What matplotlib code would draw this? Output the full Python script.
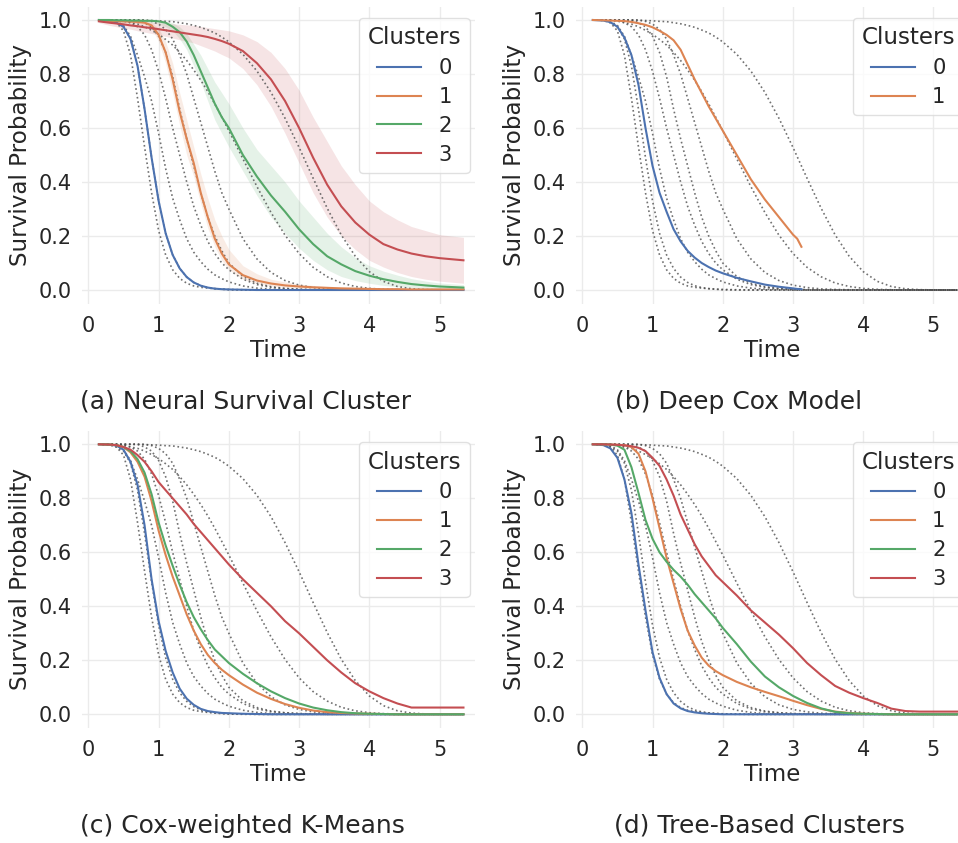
import matplotlib
matplotlib.use("Agg")
import matplotlib.pyplot as plt

plt.rcParams.update({"font.family": "DejaVu Sans", "text.color": "#262626",
                     "axes.labelcolor": "#262626", "xtick.color": "#262626",
                     "ytick.color": "#262626"})

# ground-truth survival curves (dotted, shared by all panels)
t_true = [0.2, 0.3, 0.4, 0.5, 0.6, 0.7, 0.8, 0.9, 1.0, 1.1, 1.2, 1.3, 1.4, 1.5, 1.6, 1.7,
          1.8, 1.9, 2.0, 2.2, 2.4, 2.6, 2.8, 3.0, 3.2, 3.4, 3.6, 3.8, 4.0, 4.2, 4.4, 4.6,
          4.8, 5.0, 5.34]
true_1 = [1.0, 0.998, 0.99, 0.96, 0.87, 0.71, 0.53, 0.36, 0.22, 0.13, 0.075, 0.043, 0.025,
          0.015, 0.01, 0.007, 0.005, 0.003, 0.002, 0.001, 0, 0, 0, 0, 0, 0, 0, 0, 0, 0, 0, 0,
          0, 0, 0]
true_2 = [1.0, 0.999, 0.99, 0.975, 0.93, 0.83, 0.67, 0.49, 0.33, 0.21, 0.13, 0.08, 0.048,
          0.028, 0.016, 0.009, 0.005, 0.003, 0.001, 0, 0, 0, 0, 0, 0, 0, 0, 0, 0, 0, 0, 0, 0, 0, 0]
true_3 = [1.0, 1.0, 0.995, 0.98, 0.94, 0.87, 0.79, 0.7, 0.58, 0.45, 0.34, 0.26, 0.19, 0.14,
          0.105, 0.077, 0.056, 0.042, 0.03, 0.015, 0.007, 0.003, 0.001, 0, 0, 0, 0, 0, 0, 0, 0,
          0, 0, 0, 0]
true_4 = [1.0, 1.0, 1.0, 0.998, 0.99, 0.975, 0.945, 0.89, 0.81, 0.71, 0.6, 0.5, 0.4, 0.31,
          0.24, 0.18, 0.135, 0.1, 0.075, 0.04, 0.02, 0.01, 0.005, 0.002, 0.001, 0, 0, 0, 0, 0,
          0, 0, 0, 0, 0]
true_5 = [1.0, 1.0, 1.0, 1.0, 1.0, 1.0, 0.99, 0.975, 0.94, 0.88, 0.79, 0.67, 0.56, 0.46, 0.36,
          0.27, 0.2, 0.145, 0.1, 0.05, 0.025, 0.012, 0.006, 0.003, 0.001, 0, 0, 0, 0, 0, 0, 0,
          0, 0, 0]
true_6 = [1.0, 1.0, 1.0, 1.0, 1.0, 1.0, 1.0, 0.995, 0.985, 0.965, 0.93, 0.87, 0.8, 0.71, 0.62,
          0.53, 0.44, 0.36, 0.3, 0.19, 0.115, 0.065, 0.035, 0.018, 0.009, 0.004, 0.002, 0.001,
          0, 0, 0, 0, 0, 0, 0]
true_7 = [1.0, 1.0, 0.998, 0.996, 0.99, 0.985, 0.975, 0.962, 0.947, 0.928, 0.907, 0.88, 0.85,
          0.815, 0.777, 0.735, 0.689, 0.64, 0.59, 0.486, 0.383, 0.287, 0.203, 0.135, 0.084,
          0.049, 0.026, 0.013, 0.006, 0.0025, 0.001, 0, 0, 0, 0]
true_8 = [1.0, 1.0, 1.0, 1.0, 1.0, 1.0, 0.999, 0.998, 0.997, 0.995, 0.994, 0.99, 0.986, 0.98,
          0.973, 0.963, 0.952, 0.937, 0.919, 0.873, 0.811, 0.732, 0.636, 0.528, 0.414, 0.303,
          0.204, 0.125, 0.068, 0.032, 0.013, 0.0045, 0.0013, 0.0003, 0]
true_curves = [true_1, true_2, true_3, true_4, true_5, true_6, true_7, true_8]

# estimated cluster curves
t_grid = [0.15, 0.3, 0.4, 0.5, 0.6, 0.7, 0.8, 0.9, 1.0, 1.1, 1.2, 1.3, 1.4, 1.5, 1.6, 1.7,
          1.8, 1.9, 2.0, 2.2, 2.4, 2.6, 2.8, 3.0, 3.2, 3.4, 3.6, 3.8, 4.0, 4.2, 4.4, 4.6,
          4.8, 5.0, 5.34]

# (a) Neural Survival Cluster
nsc_0 = [1.0, 0.998, 0.99, 0.975, 0.93, 0.83, 0.67, 0.49, 0.33, 0.21, 0.13, 0.08, 0.048,
         0.028, 0.016, 0.009, 0.005, 0.003, 0.002, 0.001, 0, 0, 0, 0, 0, 0, 0, 0, 0, 0, 0, 0,
         0, 0, 0]
nsc_1 = [0.998, 0.997, 0.996, 0.995, 0.994, 0.993, 0.99, 0.98, 0.945, 0.88, 0.78, 0.66, 0.56,
         0.47, 0.36, 0.27, 0.19, 0.135, 0.095, 0.055, 0.035, 0.024, 0.017, 0.013, 0.01, 0.008,
         0.006, 0.005, 0.004, 0.003, 0.003, 0.002, 0.002, 0.002, 0.002]
nsc_1_hi = [1.0, 1.0, 1.0, 0.999, 0.998, 0.997, 0.995, 0.99, 0.97, 0.92, 0.84, 0.73, 0.63,
            0.53, 0.43, 0.34, 0.26, 0.2, 0.15, 0.09, 0.06, 0.04, 0.03, 0.022, 0.017, 0.013,
            0.011, 0.009, 0.008, 0.007, 0.006, 0.005, 0.005, 0.004, 0.004]
nsc_1_lo = [0.996, 0.995, 0.993, 0.991, 0.989, 0.987, 0.983, 0.97, 0.92, 0.84, 0.73, 0.61,
            0.5, 0.42, 0.32, 0.23, 0.16, 0.11, 0.075, 0.04, 0.024, 0.015, 0.01, 0.007, 0.005,
            0.004, 0.003, 0.002, 0.002, 0.001, 0.001, 0.001, 0.001, 0.001, 0.001]
nsc_2 = [1.0, 1.0, 0.999, 0.999, 0.998, 0.998, 0.997, 0.997, 0.995, 0.99, 0.975, 0.955, 0.92,
         0.87, 0.81, 0.75, 0.69, 0.64, 0.6, 0.5, 0.42, 0.35, 0.29, 0.225, 0.17, 0.125, 0.095,
         0.07, 0.053, 0.04, 0.03, 0.022, 0.017, 0.013, 0.009]
nsc_2_hi = [1.0, 1.0, 1.0, 1.0, 1.0, 1.0, 1.0, 1.0, 0.999, 0.996, 0.99, 0.975, 0.95, 0.91,
            0.87, 0.82, 0.77, 0.73, 0.69, 0.6, 0.52, 0.46, 0.4, 0.33, 0.27, 0.21, 0.16, 0.12,
            0.09, 0.07, 0.055, 0.042, 0.033, 0.026, 0.02]
nsc_2_lo = [0.999, 0.998, 0.997, 0.996, 0.995, 0.994, 0.993, 0.99, 0.985, 0.975, 0.96, 0.93,
            0.89, 0.83, 0.77, 0.7, 0.63, 0.58, 0.53, 0.44, 0.35, 0.27, 0.21, 0.155, 0.11, 0.075,
            0.05, 0.035, 0.025, 0.017, 0.012, 0.008, 0.006, 0.004, 0.003]
nsc_3 = [0.995, 0.99, 0.987, 0.984, 0.98, 0.977, 0.973, 0.97, 0.966, 0.962, 0.958, 0.954,
         0.95, 0.946, 0.942, 0.937, 0.93, 0.922, 0.912, 0.885, 0.84, 0.78, 0.7, 0.6, 0.49, 0.39,
         0.31, 0.25, 0.205, 0.17, 0.15, 0.135, 0.125, 0.118, 0.11]
nsc_3_hi = [1.0, 0.999, 0.998, 0.997, 0.996, 0.995, 0.994, 0.992, 0.99, 0.988, 0.986, 0.984,
            0.982, 0.98, 0.976, 0.972, 0.968, 0.964, 0.96, 0.945, 0.92, 0.88, 0.82, 0.74, 0.64,
            0.55, 0.46, 0.39, 0.33, 0.29, 0.26, 0.235, 0.22, 0.205, 0.195]
nsc_3_lo = [0.99, 0.98, 0.975, 0.97, 0.966, 0.96, 0.955, 0.95, 0.945, 0.939, 0.933, 0.927,
            0.921, 0.915, 0.905, 0.895, 0.885, 0.872, 0.86, 0.82, 0.76, 0.68, 0.58, 0.47, 0.36,
            0.27, 0.2, 0.15, 0.11, 0.085, 0.065, 0.05, 0.04, 0.033, 0.025]

# (b) Deep Cox Model
t_cox = [0.15, 0.3, 0.4, 0.5, 0.6, 0.7, 0.8, 0.9, 1.0, 1.1, 1.2, 1.3, 1.4, 1.5, 1.6, 1.7, 1.8,
         1.9, 2.0, 2.2, 2.4, 2.6, 2.8, 3.0, 3.06, 3.12]
cox_0 = [1.0, 0.998, 0.992, 0.975, 0.935, 0.87, 0.76, 0.6, 0.46, 0.36, 0.29, 0.225, 0.18,
         0.145, 0.12, 0.1, 0.085, 0.072, 0.062, 0.045, 0.032, 0.02, 0.012, 0.006, 0.004, 0.003]
cox_1 = [1.0, 0.999, 0.998, 0.997, 0.996, 0.993, 0.988, 0.982, 0.973, 0.96, 0.945, 0.925,
         0.89, 0.835, 0.78, 0.73, 0.68, 0.635, 0.59, 0.5, 0.41, 0.335, 0.27, 0.205, 0.19, 0.16]

# (c) Cox-weighted K-Means
km_0 = [1.0, 0.999, 0.995, 0.98, 0.935, 0.85, 0.7, 0.5, 0.345, 0.235, 0.155, 0.095, 0.058,
        0.035, 0.02, 0.012, 0.008, 0.005, 0.004, 0.002, 0.001, 0, 0, 0, 0, 0, 0, 0, 0, 0, 0, 0,
        0, 0, 0]
km_1 = [1.0, 0.999, 0.997, 0.99, 0.97, 0.935, 0.88, 0.79, 0.68, 0.59, 0.51, 0.44, 0.37, 0.31,
        0.26, 0.22, 0.19, 0.165, 0.145, 0.11, 0.08, 0.057, 0.038, 0.024, 0.014, 0.008, 0.005,
        0.003, 0.002, 0.001, 0, 0, 0, 0, 0]
km_2 = [1.0, 0.999, 0.997, 0.99, 0.975, 0.945, 0.895, 0.815, 0.71, 0.625, 0.55, 0.48, 0.415,
        0.36, 0.315, 0.275, 0.24, 0.215, 0.19, 0.15, 0.115, 0.085, 0.06, 0.04, 0.025, 0.015,
        0.008, 0.004, 0.002, 0.001, 0, 0, 0, 0, 0]
km_3 = [1.0, 0.999, 0.997, 0.99, 0.98, 0.96, 0.935, 0.9, 0.86, 0.83, 0.8, 0.77, 0.74, 0.705,
        0.675, 0.645, 0.615, 0.585, 0.555, 0.5, 0.45, 0.4, 0.345, 0.3, 0.25, 0.2, 0.155, 0.115,
        0.085, 0.06, 0.04, 0.025, 0.025, 0.025, 0.025]

# (d) Tree-Based Clusters
tree_0 = [1.0, 0.997, 0.985, 0.95, 0.87, 0.745, 0.555, 0.385, 0.23, 0.135, 0.075, 0.04,
          0.022, 0.012, 0.007, 0.004, 0.002, 0.001, 0, 0, 0, 0, 0, 0, 0, 0, 0, 0, 0, 0, 0, 0,
          0, 0, 0]
tree_1 = [1.0, 1.0, 0.999, 0.998, 0.997, 0.99, 0.965, 0.9, 0.8, 0.69, 0.58, 0.485, 0.39,
          0.31, 0.255, 0.21, 0.18, 0.16, 0.145, 0.12, 0.1, 0.083, 0.067, 0.05, 0.034, 0.02,
          0.01, 0.005, 0.002, 0.001, 0, 0, 0, 0, 0]
tree_2 = [1.0, 1.0, 0.999, 0.995, 0.98, 0.915, 0.82, 0.72, 0.65, 0.6, 0.565, 0.535, 0.51,
          0.48, 0.445, 0.415, 0.385, 0.355, 0.32, 0.26, 0.195, 0.14, 0.1, 0.068, 0.042, 0.022,
          0.009, 0.004, 0.002, 0.001, 0, 0, 0, 0, 0]
tree_3 = [1.0, 1.0, 0.999, 0.998, 0.996, 0.993, 0.987, 0.975, 0.95, 0.92, 0.87, 0.81, 0.74,
          0.685, 0.63, 0.585, 0.55, 0.515, 0.49, 0.44, 0.385, 0.34, 0.295, 0.245, 0.19, 0.145,
          0.105, 0.08, 0.06, 0.042, 0.021, 0.012, 0.01, 0.01, 0.01]

captions = ["(a) Neural Survival Cluster", "(b) Deep Cox Model",
            "(c) Cox-weighted K-Means", "(d) Tree-Based Clusters"]
colors = ["#4C72B0", "#DD8452", "#55A868", "#C44E52"]

W, H = 958, 843
fig = plt.figure(figsize=(W / 100, H / 100), dpi=100)


def panel(px_left, px_top):
    # axes box given in pixels (top-left origin)
    ax = fig.add_axes([px_left / W, 1 - (px_top + 297) / H, 393 / W, 297 / H])
    ax.set_xlim(-0.095, 5.5)
    ax.set_ylim(-0.05, 1.05)
    ax.set_xticks(range(6))
    ax.set_yticks([0, 0.2, 0.4, 0.6, 0.8, 1.0])
    ax.set_yticklabels(["0.0", "0.2", "0.4", "0.6", "0.8", "1.0"])
    ax.grid(True, color="#ebebeb", lw=1.0)
    ax.set_axisbelow(True)
    for s in ax.spines.values():
        s.set_visible(False)
    ax.tick_params(axis="both", length=0, labelsize=15)
    ax.tick_params(axis="x", pad=9)
    ax.tick_params(axis="y", pad=7)
    ax.set_xlabel("Time", fontsize=16.6, labelpad=2)
    ax.set_ylabel("Survival Probability", fontsize=16.6, labelpad=5)
    for tc in true_curves:
        ax.plot(t_true, tc, ls=":", c="0.3", lw=1.2, alpha=0.8, zorder=2)
    return ax


def legend(ax):
    lg = ax.legend(title="Clusters", loc="upper right", bbox_to_anchor=(0.987, 0.962),
                   borderaxespad=0, fontsize=15.2, title_fontsize=16.6, framealpha=0.8,
                   edgecolor="0.85", handlelength=2.1, labelspacing=0.42)
    lg.get_frame().set_linewidth(1.0)


axA = panel(81.7, 6.5)
for i, (m, lo, hi) in enumerate([(nsc_0, None, None), (nsc_1, nsc_1_lo, nsc_1_hi),
                                 (nsc_2, nsc_2_lo, nsc_2_hi), (nsc_3, nsc_3_lo, nsc_3_hi)]):
    if lo is not None:
        axA.fill_between(t_grid, lo, hi, color=colors[i], alpha=0.15, lw=0, zorder=1)
    axA.plot(t_grid, m, c=colors[i], lw=1.5, label=str(i), zorder=3)
legend(axA)

axB = panel(575.6, 6.5)
for i, m in enumerate([cox_0, cox_1]):
    axB.plot(t_cox, m, c=colors[i], lw=1.5, label=str(i), zorder=3)
legend(axB)

axC = panel(81.7, 430.8)
for i, m in enumerate([km_0, km_1, km_2, km_3]):
    axC.plot(t_grid, m, c=colors[i], lw=1.5, label=str(i), zorder=3)
legend(axC)

axD = panel(575.6, 430.8)
for i, m in enumerate([tree_0, tree_1, tree_2, tree_3]):
    axD.plot(t_grid, m, c=colors[i], lw=1.5, label=str(i), zorder=3)
legend(axD)

for (x, y), cap in zip([(80, 402), (615, 402), (80, 826), (614, 826)], captions):
    fig.text(x / W, 1 - y / H, cap, ha="left", va="center", fontsize=18)

fig.savefig("out.png", dpi=100)
